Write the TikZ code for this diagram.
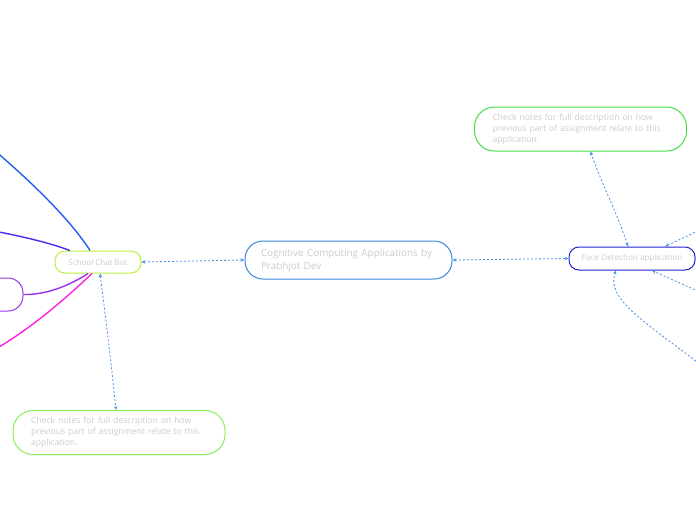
\documentclass[tikz,border=0pt]{standalone}
\usepackage{fontspec}
\setmainfont{Open Sans}
\usepackage{xcolor}
\usetikzlibrary{arrows.meta, positioning}

\definecolor{txtgray}{HTML}{CFCBC7}
\definecolor{linkblue}{HTML}{4A90E2}
\definecolor{mainblue}{HTML}{3A88D8}
\definecolor{botgreen}{HTML}{B8F03C}
\definecolor{facedark}{HTML}{2222CC}
\definecolor{notegreen}{HTML}{44DD44}
\definecolor{notelight}{HTML}{88EE55}
\definecolor{branchblue}{HTML}{2060F0}
\definecolor{branchindigo}{HTML}{5028F0}
\definecolor{branchpurple}{HTML}{9933EE}
\definecolor{branchpink}{HTML}{FF22E0}

\begin{document}
\begin{tikzpicture}[x=1pt, y=-1pt,
    topic/.style={draw, line width=1pt, rectangle, text=txtgray, font=\fontsize{8}{10}\selectfont},
    notebox/.style={topic, rounded corners=20pt, minimum width=212pt, minimum height=44pt, text width=176pt, align=left, font=\fontsize{8.6}{11}\selectfont},
    link/.style={linkblue, line width=0.8pt, dash pattern=on 2pt off 2pt, {Stealth[length=4pt,width=3.5pt]}-{Stealth[length=4pt,width=3.5pt]}},
    inlink/.style={linkblue, line width=0.8pt, dash pattern=on 2pt off 2pt, -{Stealth[length=4pt,width=3.5pt]}},
    branch/.style={line width=1.4pt}]
        \useasboundingbox (0,0) rectangle (696,520);
        \clip (0,0) rectangle (696,520);

        % Components
        \node (central) [topic, draw=mainblue, rounded corners=18pt, minimum width=207pt, minimum height=38pt, text width=175pt, align=left, font=\fontsize{9.9}{13}\selectfont] at (348.5,260) {Cognitive Computing Applications by\\Prabhjot Dev};
        \node (chatbot) [topic, draw=botgreen, rounded corners=10pt, minimum width=86pt, minimum height=22pt] at (98,262) {School Chat Bot};
        \node (face) [topic, draw=facedark, rounded corners=10pt, minimum width=126pt, minimum height=23pt, font=\fontsize{8.2}{10}\selectfont] at (632,258.5) {Face Detection application};
        \node (facenote) [notebox, draw=notegreen] at (580.5,129) {Check notes for full description on how\\previous part of assignment relate to this\\application.};
        \node (botnote) [notebox, draw=notelight] at (119,432.5) {Check notes for full description on how\\previous part of assignment relate to this\\application.};
        \node (leftbox) [draw=branchpurple, line width=1pt, rounded corners=15pt, minimum width=100pt, minimum height=33pt] at (-27,294.5) {};

        % Off-picture ends
        \coordinate (bluestart) at (-6,150);
        \coordinate (indigostart) at (-6,231);
        \coordinate (pinkstart) at (-6,350);
        \coordinate (rightone) at (702,229);
        \coordinate (righttwo) at (702,293);
        \coordinate (rightthree) at (702,366);

        % Branches
        \draw[branch, branchblue] (bluestart) .. controls (35,185) and (72,222) .. ([xshift=-8pt]chatbot.north);
        \draw[branch, branchindigo] (indigostart) .. controls (25,237) and (50,243) .. ([xshift=-28pt]chatbot.north);
        \draw[branch, branchpurple] (leftbox.east) .. controls (48,295) and (72,284) .. ([xshift=-10pt]chatbot.south);
        \draw[branch, branchpink] (pinkstart) .. controls (35,326) and (68,296) .. ([xshift=-6pt]chatbot.south);

        % Arrows
        \draw[link] (chatbot.east) -- (central.west);
        \draw[link] (central.east) -- (face.west);
        \draw[link] ([xshift=2pt]chatbot.south) .. controls (106,320) and (112,370) .. ([xshift=-3pt]botnote.north);
        \draw[link] ([xshift=-4pt]face.north) .. controls (618,215) and (600,180) .. ([xshift=10pt]facenote.south);
        \draw[inlink] (rightone) -- ([xshift=33pt]face.north);
        \draw[inlink] (righttwo) -- ([xshift=20pt]face.south);
        \draw[inlink] (rightthree) .. controls (650,325) and (605,300) .. ([xshift=-16pt]face.south);
\end{tikzpicture}
\end{document}
